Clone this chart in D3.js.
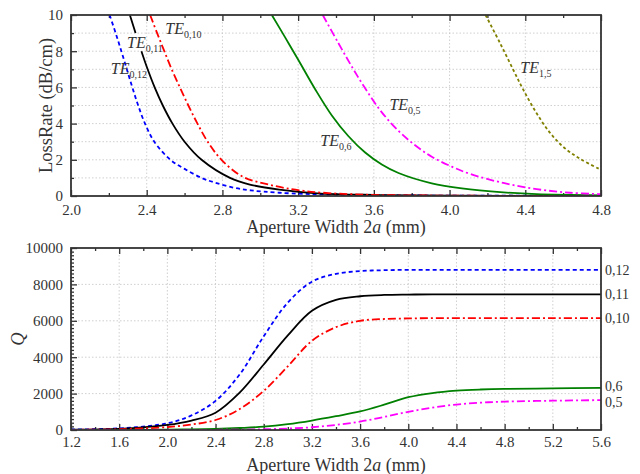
<!DOCTYPE html>
<html>
<head>
<meta charset="utf-8">
<script src="https://cdn.jsdelivr.net/npm/d3@7"></script>
<style>
  body { margin: 0; background: #fff; }
  svg { display: block; font-family: "Liberation Serif", "DejaVu Serif", serif; }
</style>
</head>
<body>
<div id="chart"></div>
<script>
// ---- top panel: loss rate (dB/cm) vs aperture width 2a (mm)
const lossNames = ["0,12", "0,11", "0,10", "0,6", "0,5", "1,5"];
const lossX012 = [2.204, 2.236, 2.266, 2.295, 2.324, 2.355, 2.391, 2.44, 2.525, 2.6, 2.69, 2.76, 2.86, 2.95, 3.1, 3.4, 3.8, 4.8];
const lossY012 = [10, 9, 8, 7, 6, 5, 4, 3, 2, 1.5, 1, 0.74, 0.46, 0.31, 0.18, 0.07, 0.03, 0.01];
const lossX011 = [2.311, 2.341, null, 2.372, 2.405, 2.442, 2.485, 2.536, 2.6, 2.69, 2.84, 2.95, 3.1, 3.3, 3.6, 4.0, 4.8];
const lossY011 = [10, 9, null, 8, 7, 6, 5, 4, 3, 2, 1, 0.62, 0.35, 0.15, 0.06, 0.02, 0.01];
const lossX010 = [2.418, 2.455, 2.493, 2.532, 2.575, 2.62, 2.668, 2.722, 2.795, 2.91, 3.05, 3.23, 3.5, 4.0, 4.8];
const lossY010 = [10, 9, 8, 7, 6, 5, 4, 3, 2, 1.05, 0.62, 0.28, 0.09, 0.02, 0.01];
const lossX06 = [3.061, 3.132, 3.202, 3.29, 3.378, 3.466, 3.554, 3.642, 3.73, 3.906, 4.065, 4.284, 4.46, 4.8];
const lossY06 = [10, 8.75, 7.5, 5.9, 4.45, 3.3, 2.4, 1.74, 1.27, 0.7, 0.42, 0.2, 0.1, 0.04];
const lossX05 = [3.33, 3.413, 3.484, 3.554, 3.64, 3.73, 3.818, 3.906, 4.012, 4.108, 4.284, 4.46, 4.636, 4.8];
const lossY05 = [10, 8.44, 7.14, 5.95, 4.65, 3.6, 2.8, 2.17, 1.62, 1.22, 0.72, 0.38, 0.18, 0.1];
const lossX15 = [4.19, 4.267, 4.337, 4.39, 4.46, 4.53, 4.6, 4.69, 4.8];
const lossY15 = [10, 8.44, 6.96, 5.86, 4.57, 3.5, 2.72, 2.05, 1.45];
const lossXTicks = [2.0, 2.4, 2.8, 3.2, 3.6, 4.0, 4.4, 4.8];
const lossYTicks = [0, 2, 4, 6, 8, 10];

// ---- bottom panel: Q vs aperture width
const qNames = ["0,12", "0,11", "0,10", "0,6", "0,5"];
const qX = [1.2, 1.6, 2.0, 2.2, 2.4, 2.6, 2.8, 3.0, 3.2, 3.4, 3.6, 3.8, 4.0, 4.2, 4.4, 4.6, 4.8, 5.2, 5.6];
const q012 = [30, 90, 370, 800, 1600, 3050, 5150, 7000, 8150, 8580, 8730, 8780, 8800, 8800, 8800, 8800, 8800, 8800, 8800];
const q011 = [20, 60, 280, 520, 950, 2050, 3600, 5200, 6550, 7150, 7350, 7420, 7440, 7450, 7450, 7450, 7450, 7450, 7450];
const q010 = [10, 40, 160, 300, 550, 1150, 2150, 3500, 4900, 5650, 6000, 6100, 6130, 6150, 6150, 6150, 6150, 6150, 6150];
const q06 = [0, 5, 20, 35, 60, 110, 180, 320, 520, 760, 1020, 1390, 1800, 2030, 2160, 2225, 2260, 2285, 2320];
const q05 = [0, 0, 2, 5, 10, 20, 40, 80, 150, 280, 460, 720, 1000, 1230, 1400, 1500, 1560, 1610, 1640];
const qXTicks = [1.2, 1.6, 2.0, 2.4, 2.8, 3.2, 3.6, 4.0, 4.4, 4.8, 5.2, 5.6];
const qYTicks = [0, 2000, 4000, 6000, 8000, 10000];

const styles = {
  "0,12": { color: "#0000ff", dash: "4,3" },
  "0,11": { color: "#000000", dash: null },
  "0,10": { color: "#ff0000", dash: "8,3,2,3" },
  "0,6": { color: "#008000", dash: null },
  "0,5": { color: "#ff00ff", dash: "8,3,2,3" },
  "1,5": { color: "#808000", dash: "3,2.5" }
};

const W = 640, H = 474;
const svg = d3.select("#chart").append("svg").attr("width", W).attr("height", H);
const textCol = "#333";

function panel(box, xDom, yDom, xTicks, yTicks, xMinor, yMinor, yGridAll, fmtX, fmtY, xPad) {
  const x = d3.scaleLinear().domain(xDom).range([box.l, box.r]);
  const y = d3.scaleLinear().domain(yDom).range([box.b, box.t]);
  const g = svg.append("g");

  // grid
  g.append("g").selectAll("line").data(xTicks).join("line")
    .attr("x1", d => x(d)).attr("x2", d => x(d)).attr("y1", box.t).attr("y2", box.b)
    .attr("stroke", "#c4c4c4").attr("stroke-width", 0.8).attr("stroke-dasharray", "1.5,2");
  g.append("g").selectAll("line").data(yGridAll).join("line")
    .attr("x1", box.l).attr("x2", box.r).attr("y1", d => y(d)).attr("y2", d => y(d))
    .attr("stroke", "#c4c4c4").attr("stroke-width", 0.8).attr("stroke-dasharray", "1.5,2");

  // inward ticks
  const tickG = (axis, tr) => {
    const a = g.append("g").attr("transform", tr).call(axis);
    a.select(".domain").remove();
    a.selectAll("line").attr("stroke", textCol).attr("stroke-width", 1.3);
    return a;
  };
  tickG(d3.axisBottom(x).tickValues(xMinor).tickSizeInner(-3).tickSizeOuter(0).tickFormat(""), `translate(0,${box.b})`);
  tickG(d3.axisTop(x).tickValues(xMinor).tickSizeInner(-3).tickSizeOuter(0).tickFormat(""), `translate(0,${box.t})`);
  tickG(d3.axisLeft(y).tickValues(yMinor).tickSizeInner(-3).tickSizeOuter(0).tickFormat(""), `translate(${box.l},0)`);
  const xb = tickG(d3.axisBottom(x).tickValues(xTicks).tickSizeInner(-6).tickSizeOuter(0).tickPadding(xPad).tickFormat(fmtX), `translate(0,${box.b})`);
  tickG(d3.axisTop(x).tickValues(xTicks).tickSizeInner(-6).tickSizeOuter(0).tickFormat(""), `translate(0,${box.t})`);
  const yl = tickG(d3.axisLeft(y).tickValues(yTicks).tickSizeInner(-6).tickSizeOuter(0).tickPadding(8).tickFormat(fmtY), `translate(${box.l},0)`);
  [xb, yl].forEach(a => a.selectAll("text")
    .attr("font-family", "Liberation Serif").attr("font-size", 15).attr("fill", textCol));

  const clipId = "clip" + Math.round(box.t);
  svg.append("clipPath").attr("id", clipId).append("rect")
    .attr("x", box.l).attr("y", box.t).attr("width", box.r - box.l).attr("height", box.b - box.t);
  const lines = svg.append("g").attr("clip-path", `url(#${clipId})`);

  return { x, y, g, lines };
}

function drawFrame(box) {
  svg.append("rect").attr("x", box.l).attr("y", box.t)
    .attr("width", box.r - box.l).attr("height", box.b - box.t)
    .attr("fill", "none").attr("stroke", textCol).attr("stroke-width", 1.8);
}

function te(x, y, sub) {
  const t = svg.append("text").attr("x", x).attr("y", y)
    .attr("fill", textCol).attr("font-size", 16);
  t.append("tspan").attr("font-style", "italic").text("TE");
  t.append("tspan").attr("font-size", 10).attr("dy", 4).text(sub);
}

// ---------- top panel
const topBox = { l: 71, r: 601, t: 15, b: 196 };
const topP = panel(topBox, [2.0, 4.8], [0, 10], lossXTicks, lossYTicks,
  d3.range(2.2, 4.8, 0.4).map(v => +v.toFixed(1)),
  [1, 3, 5, 7, 9], d3.range(1, 10),
  d3.format(".1f"), d3.format("d"), 8);

const lossSeries = [
  [lossX012, lossY012], [lossX011, lossY011], [lossX010, lossY010],
  [lossX06, lossY06], [lossX05, lossY05], [lossX15, lossY15]
];
const lossLine = d3.line()
  .defined(p => p[0] != null)
  .x(p => topP.x(p[0])).y(p => topP.y(p[1]))
  .curve(d3.curveCatmullRom.alpha(0.5));

lossSeries.forEach((s, i) => {
  const st = styles[lossNames[i]];
  topP.lines.append("path")
    .datum(s[0].map((v, j) => [v, s[1][j]]))
    .attr("d", lossLine)
    .attr("fill", "none").attr("stroke", st.color)
    .attr("stroke-width", 1.8)
    .attr("stroke-dasharray", st.dash);
});
drawFrame(topBox);

// curve labels (placed in data units)
const lossLabelPos = [[2.21, 6.74], [2.296, 8.19], [2.498, 8.93], [3.317, 2.76], [3.682, 4.75], [4.374, 6.78]];
lossLabelPos.forEach((p, i) => te(topP.x(p[0]), topP.y(p[1]), lossNames[i]));

svg.append("text")
  .attr("transform", `translate(52,${(topBox.t + topBox.b) / 2}) rotate(-90)`)
  .attr("text-anchor", "middle").attr("font-size", 18.5).attr("fill", textCol)
  .text("LossRate (dB/cm)");
const xt1 = svg.append("text").attr("x", (topBox.l + topBox.r) / 2).attr("y", 233)
  .attr("text-anchor", "middle").attr("font-size", 18).attr("fill", textCol);
xt1.append("tspan").text("Aperture Width 2");
xt1.append("tspan").attr("font-style", "italic").text("a");
xt1.append("tspan").text(" (mm)");

// ---------- bottom panel
const botBox = { l: 71, r: 601, t: 248, b: 430 };
const botP = panel(botBox, [1.2, 5.6], [0, 10000], qXTicks, qYTicks,
  d3.range(1.4, 5.6, 0.4).map(v => +v.toFixed(1)),
  d3.range(200, 10000, 200).filter(v => v % 2000 !== 0), [2000, 4000, 6000, 8000],
  d3.format(".1f"), d3.format("d"), 6);

const qSeries = [q012, q011, q010, q06, q05];
const qLine = d3.line()
  .x((d, j) => botP.x(qX[j])).y(d => botP.y(d))
  .curve(d3.curveCatmullRom.alpha(0.5));

qSeries.forEach((s, i) => {
  const st = styles[qNames[i]];
  botP.lines.append("path").datum(s).attr("d", qLine)
    .attr("fill", "none").attr("stroke", st.color)
    .attr("stroke-width", 1.8)
    .attr("stroke-dasharray", st.dash);
});
drawFrame(botBox);

// right-hand end labels, nudged apart when too close
const endY = qSeries.map(s => botP.y(s[s.length - 1]));
for (let k = 1; k < endY.length; k++) {
  const gap = endY[k] - endY[k - 1];
  if (gap < 16) { endY[k - 1] -= (16 - gap) / 2; endY[k] += (16 - gap) / 2; }
}
svg.append("g").selectAll("text").data(qNames).join("text")
  .attr("x", botBox.r + 4)
  .attr("y", (d, i) => endY[i])
  .attr("dy", "0.35em")
  .attr("font-size", 14).attr("fill", textCol)
  .text(d => d);

svg.append("text")
  .attr("transform", `translate(24,${(botBox.t + botBox.b) / 2}) rotate(-90)`)
  .attr("text-anchor", "middle").attr("font-size", 18.5).attr("font-style", "italic")
  .attr("fill", textCol).text("Q");
const xt2 = svg.append("text").attr("x", (botBox.l + botBox.r) / 2).attr("y", 471)
  .attr("text-anchor", "middle").attr("font-size", 18).attr("fill", textCol);
xt2.append("tspan").text("Aperture Width 2");
xt2.append("tspan").attr("font-style", "italic").text("a");
xt2.append("tspan").text(" (mm)");
</script>
</body>
</html>
